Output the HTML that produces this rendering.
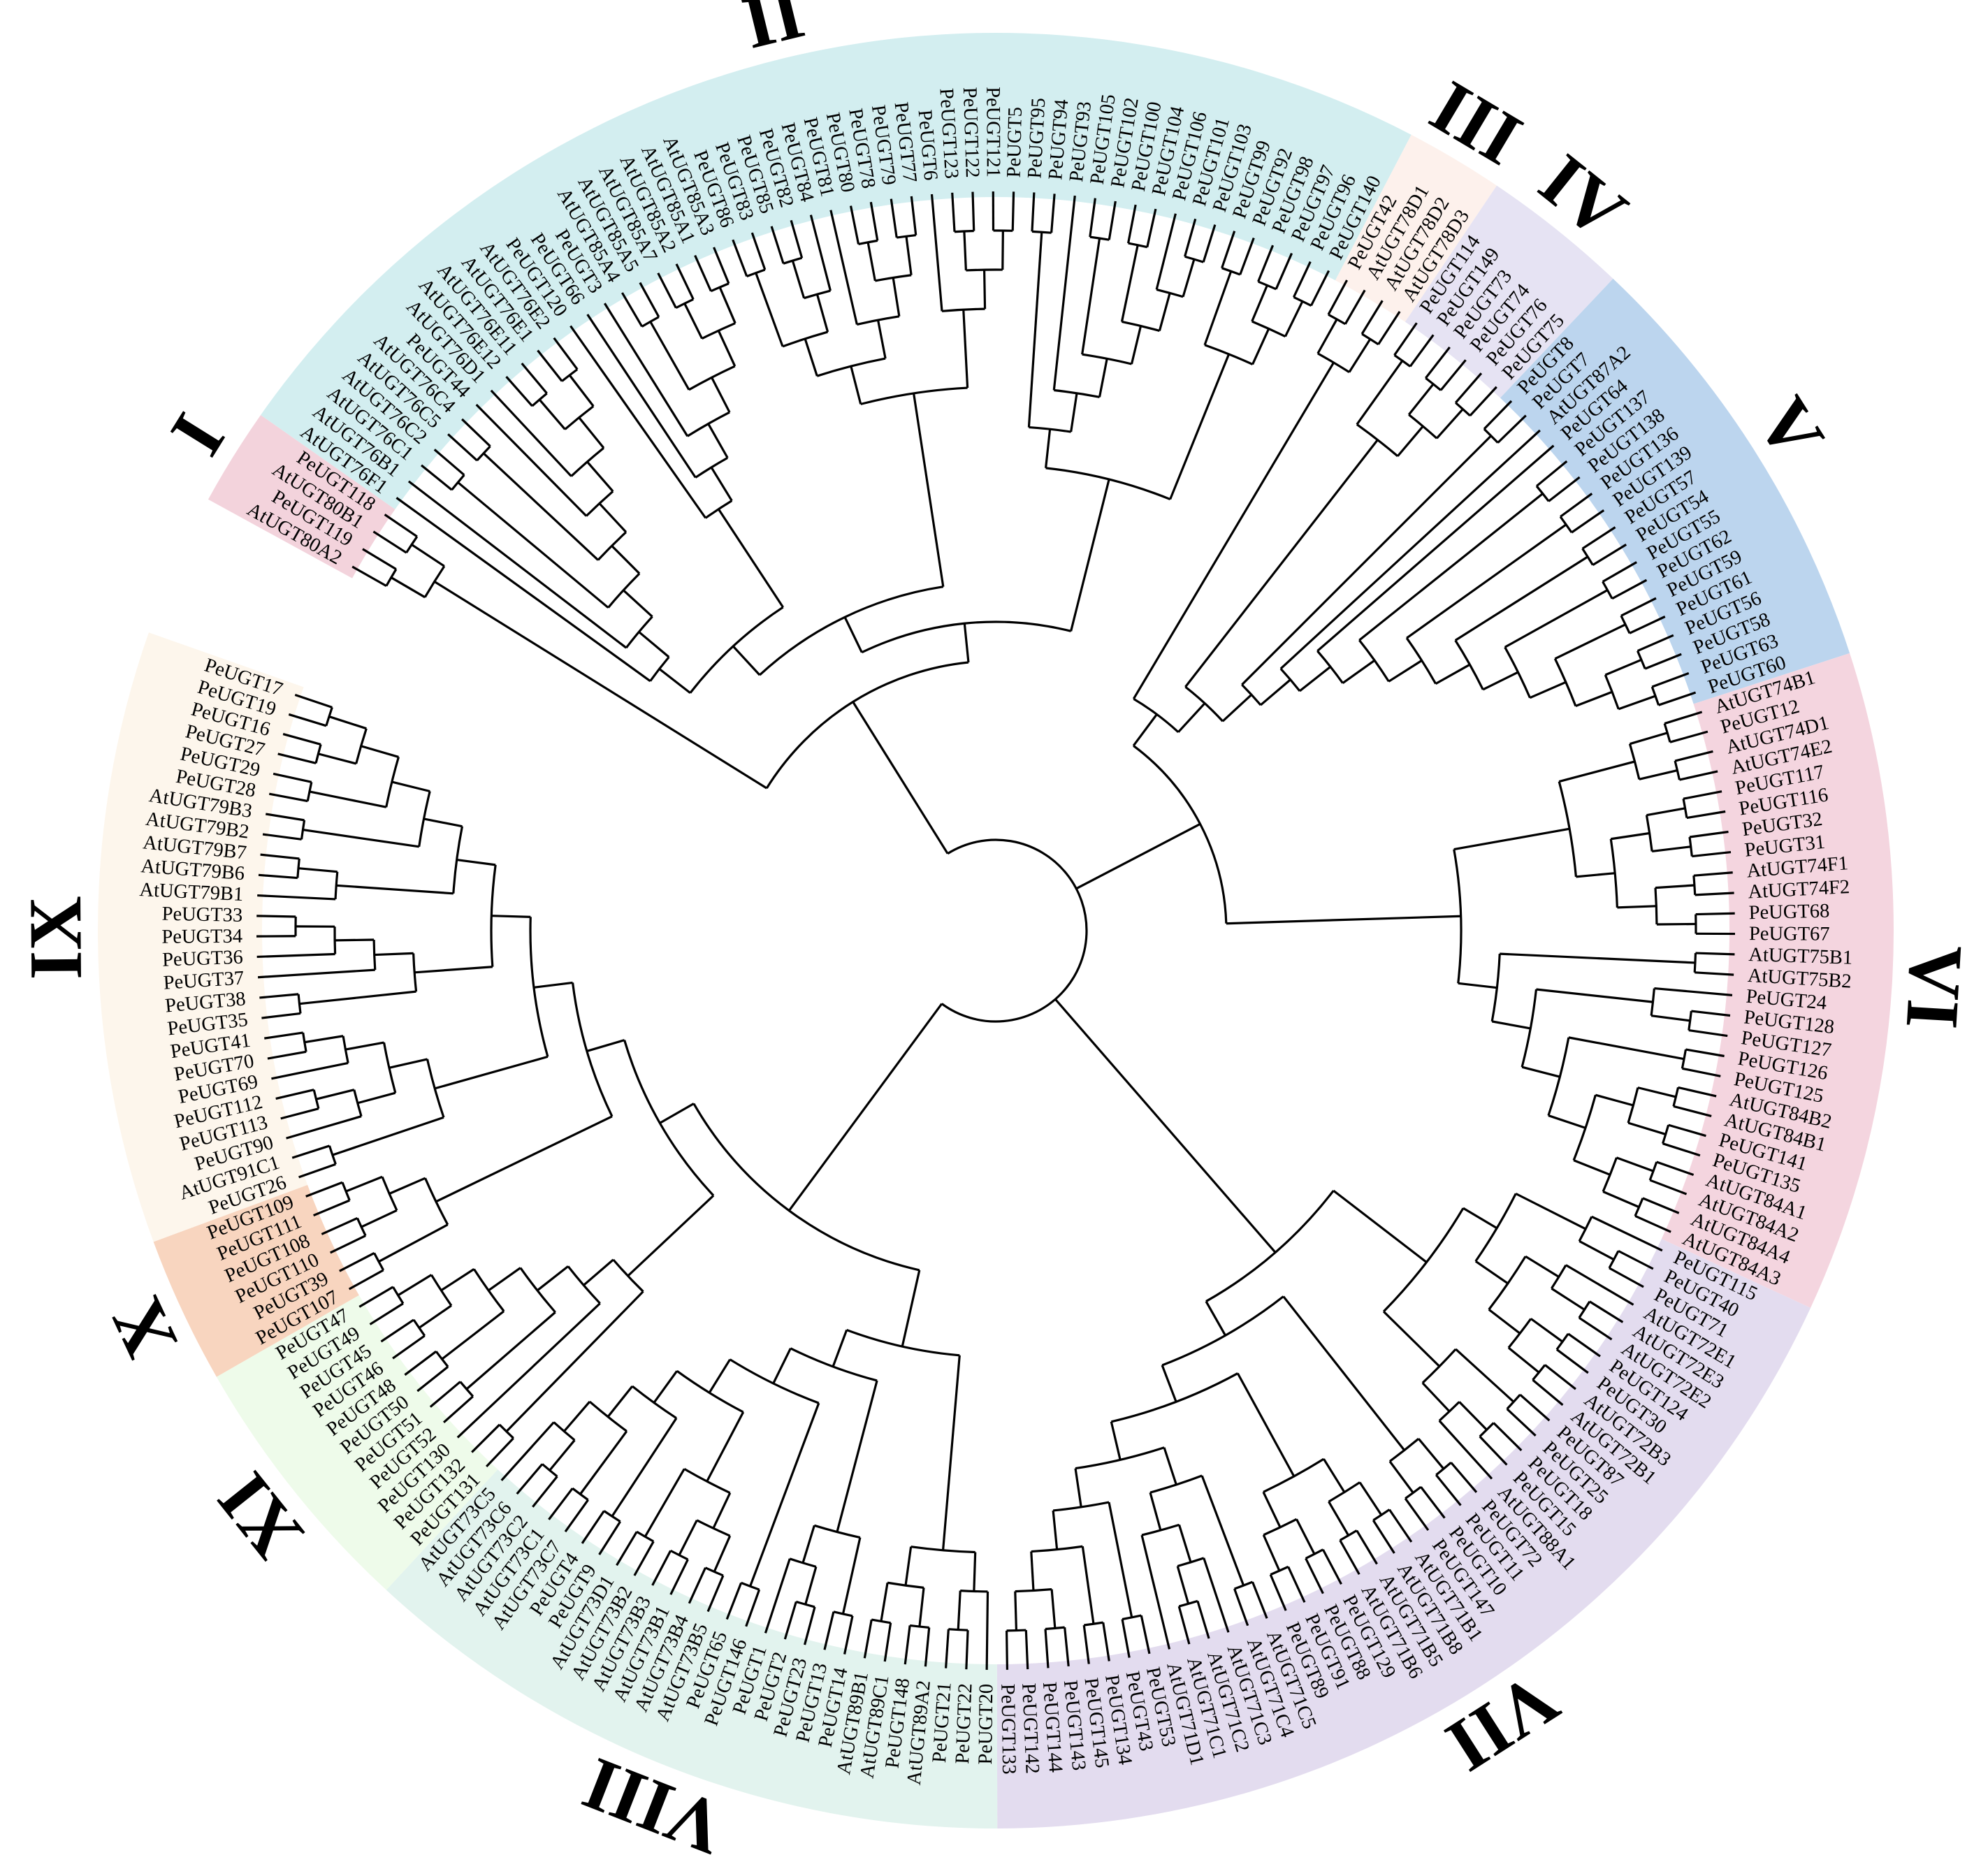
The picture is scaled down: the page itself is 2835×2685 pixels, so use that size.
<!DOCTYPE html>
<html><head><meta charset="utf-8"><style>
html,body{margin:0;padding:0;background:#fff;}
svg{display:block;}
</style></head><body>
<svg id="chart" width="2835" height="2685" viewBox="0 0 2835 2685" xmlns="http://www.w3.org/2000/svg">
<g id="bands"></g>
<g id="tree" stroke="#000" stroke-width="3.2" fill="none"></g>
<g id="labels" font-family="'Liberation Serif', serif" font-size="28.5" fill="#000"></g>
<g id="numerals" font-family="'Liberation Serif', serif" font-size="108" font-weight="bold" fill="#000"></g>
</svg>
<script>
const I = [["AtUGT80A2","PeUGT119"],["AtUGT80B1","PeUGT118"]];
const E76 = [["AtUGT76E12","AtUGT76E11"],["AtUGT76E1","AtUGT76E2"]];
const D76 = ["PeUGT44",["AtUGT76D1",E76]];
const C76 = [["AtUGT76C1","AtUGT76C2"],[["AtUGT76C5","AtUGT76C4"],D76]];
const IIa = ["AtUGT76F1",["AtUGT76B1",C76]];
const A85 = [["AtUGT85A4","AtUGT85A5"],[["AtUGT85A7","AtUGT85A2"],["AtUGT85A1","AtUGT85A3"]]];
const IIb = ["PeUGT120",["PeUGT66",["PeUGT3",A85]]];
const IIc = [["PeUGT86","PeUGT83"],[["PeUGT85","PeUGT82"],"PeUGT84"]];
const IId = ["PeUGT81",[["PeUGT80","PeUGT78"],["PeUGT79","PeUGT77"]]];
const IIe = ["PeUGT6",[["PeUGT123","PeUGT122"],["PeUGT121","PeUGT5"]]];
const F105 = [["PeUGT105","PeUGT102"],[["PeUGT100","PeUGT104"],["PeUGT106",["PeUGT101","PeUGT103"]]]];
const IIf = [["PeUGT95","PeUGT94"],["PeUGT93",F105]];
const IIg = [["PeUGT99","PeUGT92"],[["PeUGT98","PeUGT97"],["PeUGT96","PeUGT140"]]];
const II = [[[IIa,IIb],[[IIc,IId],IIe]],[IIf,IIg]];
const III = [["PeUGT42","AtUGT78D1"],["AtUGT78D2","AtUGT78D3"]];
const IV = [["PeUGT114","PeUGT149"],[["PeUGT73","PeUGT74"],["PeUGT76","PeUGT75"]]];
const V5 = [["PeUGT59","PeUGT61"],[["PeUGT56","PeUGT58"],["PeUGT63","PeUGT60"]]];
const V4 = [["PeUGT57","PeUGT54"],[["PeUGT55","PeUGT62"],V5]];
const V3 = [["PeUGT137","PeUGT138"],[["PeUGT136","PeUGT139"],V4]];
const V = [["PeUGT8","PeUGT7"],["AtUGT87A2",["PeUGT64",V3]]];
const VIa = [[["AtUGT74B1","PeUGT12"],["AtUGT74D1","AtUGT74E2"]],[[["PeUGT117","PeUGT116"],["PeUGT32","PeUGT31"]],[["AtUGT74F1","AtUGT74F2"],["PeUGT68","PeUGT67"]]]];
const A84 = [[["AtUGT84B2","AtUGT84B1"],["PeUGT141","PeUGT135"]],[["AtUGT84A1","AtUGT84A2"],["AtUGT84A4","AtUGT84A3"]]];
const VIb = [["AtUGT75B1","AtUGT75B2"],[["PeUGT24",["PeUGT128","PeUGT127"]],[["PeUGT126","PeUGT125"],A84]]];
const VI = [VIa,VIb];
const VIIa = [["PeUGT115",["PeUGT40","PeUGT71"]],[["AtUGT72E1",["AtUGT72E3","AtUGT72E2"]],[["PeUGT124","PeUGT30"],["AtUGT72B3","AtUGT72B1"]]]];
const VIIb = [["PeUGT87","PeUGT25"],[["PeUGT18","PeUGT15"],"AtUGT88A1"]];
const VIIc = [["PeUGT72","PeUGT11"],["PeUGT10","PeUGT147"]];
const VIId = [[["AtUGT71B1","AtUGT71B8"],["AtUGT71B5","AtUGT71B6"]],[["PeUGT129","PeUGT88"],["PeUGT91","PeUGT89"]]];
const VIIe = [["AtUGT71C5","AtUGT71C4"],[["AtUGT71C3",["AtUGT71C2","AtUGT71C1"]],"AtUGT71D1"]];
const VIIf = [["PeUGT53","PeUGT43"],[["PeUGT134","PeUGT145"],[["PeUGT143","PeUGT144"],["PeUGT142","PeUGT133"]]]];
const VII = [[VIIa,VIIb],[VIIc,[VIId,[VIIe,VIIf]]]];
const VIIIa = [["PeUGT20",["PeUGT22","PeUGT21"]],[["AtUGT89A2","PeUGT148"],["AtUGT89C1","AtUGT89B1"]]];
const VIIIb = [["PeUGT14","PeUGT13"],[["PeUGT23","PeUGT2"],"PeUGT1"]];
const B73 = [[["AtUGT73B5","AtUGT73B4"],["AtUGT73B1","AtUGT73B3"]],["AtUGT73B2","AtUGT73D1"]];
const C73 = [["PeUGT9","PeUGT4"],[["AtUGT73C7","AtUGT73C1"],[["AtUGT73C2","AtUGT73C6"],"AtUGT73C5"]]];
const VIII = [VIIIa,[VIIIb,[["PeUGT146","PeUGT65"],[B73,C73]]]];
const XI = [["PeUGT131","PeUGT132"],["PeUGT130",[["PeUGT52","PeUGT51"],[["PeUGT50","PeUGT48"],[["PeUGT46","PeUGT45"],["PeUGT49","PeUGT47"]]]]]];
const X = [["PeUGT107","PeUGT39"],[["PeUGT110","PeUGT108"],["PeUGT111","PeUGT109"]]];
const IXa = [["PeUGT26","AtUGT91C1"],[["PeUGT90",["PeUGT113","PeUGT112"]],["PeUGT69",["PeUGT70","PeUGT41"]]]];
const IXb = [["PeUGT35","PeUGT38"],["PeUGT37",["PeUGT36",["PeUGT34","PeUGT33"]]]];
const IXc = [["AtUGT79B1",["AtUGT79B6","AtUGT79B7"]],[["AtUGT79B2","AtUGT79B3"],[["PeUGT28","PeUGT29"],[["PeUGT27","PeUGT16"],["PeUGT19","PeUGT17"]]]]];
const IX = [IXa,[IXb,IXc]];
const TREE = [[I,II],[[III,[IV,V]],VI],VII,[VIII,[XI,[X,IX]]]];

const cladeNames = ["I","II","III","IV","V","VI","VII","VIII","XI","X","IX"];
const cladeSizes = [4,52,4,6,18,27,41,27,11,6,25];
const cladeColors = ["#f3d3dc","#d3eef0","#fdf1ec","#e6e3f3","#bcd5ee","#f4d5df","#e3dcef","#e2f3ee","#eefbea","#f8d5bf","#fdf6ec"];

const CX=1425, CY=1332, R_LEAF=1058, R_TXT=1078, B_IN=1050, B_OUT=1285, R_NUM=1345, STEP_R=56, R_ROOT=130;
const START=209.5, END=558.6;
const NS="http://www.w3.org/2000/svg";
function mk(tag,attrs,parent){const e=document.createElementNS(NS,tag);for(const k in attrs)e.setAttribute(k,attrs[k]);parent.appendChild(e);return e;}
function pt(r,a){const t=a*Math.PI/180;return [CX+r*Math.cos(t),CY+r*Math.sin(t)];}

function build(n){return (typeof n==='string')?{name:n,children:[]}:{children:n.map(build)};}
const root=build(TREE);
const leaves=[];
function walk(n){if(n.name){leaves.push(n);n.h=0;}else{n.children.forEach(walk);n.h=Math.max(...n.children.map(c=>c.h))+1;}}
walk(root);
const stepA=(END-START)/(leaves.length-1);
leaves.forEach((l,i)=>{l.a=START+i*stepA;});
function rad(n){if(n===root)return R_ROOT;if(n.name)return R_LEAF;return Math.max(R_LEAF-STEP_R*n.h,170);}
function setA(n){if(!n.name){n.children.forEach(setA);n.a=(n.children[0].a+n.children[n.children.length-1].a)/2;}}
setA(root);

const gB=document.getElementById('bands'), gN=document.getElementById('numerals');
let idx=0;
cladeSizes.forEach((sz,ci)=>{
  const a0=START+(idx-0.5)*stepA, a1=START+(idx+sz-0.5)*stepA;
  const [x1,y1]=pt(B_IN,a0),[x2,y2]=pt(B_OUT,a0),[x3,y3]=pt(B_OUT,a1),[x4,y4]=pt(B_IN,a1);
  const lg=(a1-a0)>180?1:0;
  const p=mk('path',{d:`M${x1},${y1}L${x2},${y2}A${B_OUT},${B_OUT} 0 ${lg} 1 ${x3},${y3}L${x4},${y4}A${B_IN},${B_IN} 0 ${lg} 0 ${x1},${y1}Z`,fill:cladeColors[ci]},gB);
  
  
  const am=(a0+a1)/2;const [nx,ny]=pt(R_NUM,am);
  const t=mk('text',{x:nx,y:ny,'text-anchor':'middle','dominant-baseline':'central',transform:`rotate(${am+90} ${nx} ${ny})`},gN);
  t.textContent=cladeNames[ci];
  
  
  idx+=sz;
});

const gT=document.getElementById('tree');
function draw(n){
  if(n.name)return;
  const r=rad(n);
  const a0=n.children[0].a,a1=n.children[n.children.length-1].a;
  const [x0,y0]=pt(r,a0),[x1,y1]=pt(r,a1);
  const arc=mk('path',{d:`M${x0},${y0}A${r},${r} 0 ${(a1-a0)>180?1:0} 1 ${x1},${y1}`},gT);
  
  
  n.children.forEach(c=>{
    const [sx,sy]=pt(r,c.a),[ex,ey]=pt(rad(c),c.a);
    const ln=mk('line',{x1:sx,y1:sy,x2:ex,y2:ey},gT);
    
    
    draw(c);
  });
}
draw(root);

const gL=document.getElementById('labels');
leaves.forEach(l=>{
  const a=((l.a%360)+360)%360;
  const [x,y]=pt(R_TXT,a);
  const flip=a>90&&a<270;
  const t=mk('text',{x:x,y:y,'text-anchor':flip?'end':'start','dominant-baseline':'central',transform:`rotate(${flip?a-180:a} ${x} ${y})`},gL);
  t.textContent=l.name;
  
  
});
</script>
</body></html>
